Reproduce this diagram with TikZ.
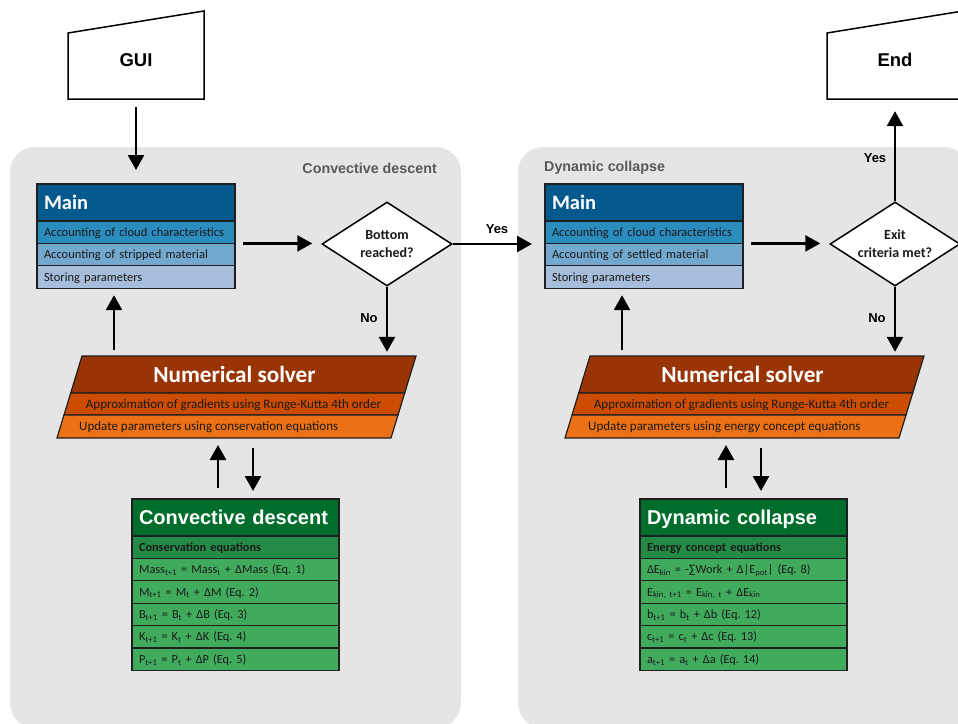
\documentclass[tikz,border=0pt]{standalone}
\usepackage{fontspec}
\setmainfont{Carlito}
\newfontfamily\arialfont{Liberation Sans}
\usetikzlibrary{positioning,shapes.geometric,arrows.meta}
\frenchspacing
\definecolor{panelgrey}{HTML}{E5E5E5}
\definecolor{titlegrey}{HTML}{595959}
\definecolor{edge}{HTML}{1F1F1F}
\definecolor{ink}{HTML}{1A1A1A}
\definecolor{pubuA}{HTML}{045A8D}
\definecolor{pubuB}{HTML}{2B8CBE}
\definecolor{pubuC}{HTML}{74A9CF}
\definecolor{pubuD}{HTML}{A6BDDB}
\definecolor{brownA}{HTML}{993404}
\definecolor{brownB}{HTML}{CC4C02}
\definecolor{brownC}{HTML}{EC7014}
\definecolor{greenA}{HTML}{006D2C}
\definecolor{greenB}{HTML}{238B45}
\definecolor{greenC}{HTML}{41AB5D}

\begin{document}
\begin{tikzpicture}[x=1pt, y=-1pt,
      panel/.style={fill=panelgrey, rounded corners=25pt},
      paneltitle/.style={font=\arialfont\bfseries\fontsize{14.3}{16}\selectfont,
                         text=titlegrey, inner sep=0pt},
      iobox/.style={minimum width=136pt, minimum height=78pt, inner sep=0pt,
                    text height=13pt, text depth=0pt,
                    font=\arialfont\bfseries\fontsize{18.5}{20}\selectfont},
      ioline/.style={draw=black, line width=1.5pt, fill=white},
      head/.style={draw=edge, line width=1.2pt, outer sep=0pt, inner xsep=7pt,
                   inner ysep=0pt, minimum height=37pt, align=left, text=white,
                   text depth=0pt},
      mainhead/.style={head, fill=pubuA, text width=184pt, text height=13.2pt,
                       font=\bfseries\fontsize{20.5}{22}\selectfont},
      eqhead/.style={head, fill=greenA, text width=193pt, text height=14.3pt,
                     font=\arialfont\bfseries\fontsize{20}{22}\selectfont},
      row/.style={draw=edge, line width=1.2pt, outer sep=0pt, inner xsep=7pt,
                  inner ysep=0pt, minimum height=22.4pt, align=left, text=ink,
                  text height=8pt, text depth=0pt,
                  font=\fontsize{12.5}{14}\selectfont},
      mainrow/.style={row, text width=184pt},
      eqrow/.style={row, fill=greenC, text width=193pt,
                    font=\fontsize{12.3}{14}\selectfont},
      decision/.style={diamond, draw=black, line width=1.5pt, fill=white,
                       minimum width=130pt, minimum height=84pt, aspect=1.55,
                       inner sep=0pt, align=center, text=ink,
                       font=\bfseries\fontsize{14}{18}\selectfont},
      srow/.style={draw=edge, line width=1.2pt},
      solvhead/.style={minimum height=37pt, inner sep=0pt, text=white,
                       text height=15pt, text depth=0pt,
                       font=\bfseries\fontsize{23.2}{25}\selectfont},
      solvtext/.style={minimum height=22.4pt, inner sep=0pt, text=ink,
                       text height=8.2pt, text depth=0pt,
                       font=\fontsize{13}{15}\selectfont},
      flag/.style={font=\arialfont\bfseries\fontsize{13}{15}\selectfont, inner sep=0pt},
      arr/.style={-{Triangle[length=15pt,width=16pt]}, line width=2.6pt,
                  shorten <=8pt, shorten >=9pt}
    ]
    \clip (0,0) rectangle (958,723);

    % Grey panels
    \fill[panel] (10,147) rectangle (461,728);
    \fill[panel] (518,147) rectangle (969,728);
    \node[paneltitle, anchor=east] (titleL) at (437,168) {Convective descent};
    \node[paneltitle, anchor=west] (titleR) at (544,168) {Dynamic collapse};

    % Start and end
    \draw[ioline] (68,99) -- (204,99) -- (204,11) -- (68,33) -- cycle;
    \node[iobox] (gui) at (136,60) {GUI};
    \draw[ioline] (827,99) -- (963,99) -- (963,11) -- (827,33) -- cycle;
    \node[iobox] (end) at (895,60) {End};

    % Convective descent
    \node[mainhead] (mainL) at (136,202.5) {Main};
    \node[mainrow, fill=pubuB, below=0pt of mainL]  (mainL1) {Accounting of cloud characteristics};
    \node[mainrow, fill=pubuC, below=0pt of mainL1] (mainL2) {Accounting of stripped material};
    \node[mainrow, fill=pubuD, below=0pt of mainL2] (mainL3) {Storing parameters};

    \node[decision] (diaL) at (387,244) {Bottom\\reached?};

    \filldraw[srow, fill=brownA] (82,356) -- (416,356) -- (404.7,393) -- (70.7,393) -- cycle;
    \filldraw[srow, fill=brownB] (70.7,393) -- (404.7,393) -- (398,415) -- (64,415) -- cycle;
    \filldraw[srow, fill=brownC] (64,415) -- (398,415) -- (391,438) -- (57,438) -- cycle;
    \node[solvhead] (solvL) at (234.5,374.5) {Numerical solver};
    \node[solvtext] (solvL1) at (233.5,404) {Approximation of gradients using Runge-Kutta 4th order};
    \node[solvtext, anchor=west] (solvL2) at (79,426.6) {Update parameters using conservation equations};

    \node[eqhead] (eqL) at (235.5,517.5) {Convective descent};
    \node[eqrow, fill=greenB, below=0pt of eqL, font=\bfseries\fontsize{12.3}{14}\selectfont] (eqL0) {Conservation equations};
    \node[eqrow, below=0pt of eqL0] (eqL1) {Mass\textsubscript{t+1} = Mass\textsubscript{t} + ΔMass (Eq. 1)};
    \node[eqrow, below=0pt of eqL1] (eqL2) {M\textsubscript{t+1} = M\textsubscript{t} + ΔM (Eq. 2)};
    \node[eqrow, below=0pt of eqL2] (eqL3) {B\textsubscript{t+1} = B\textsubscript{t} + ΔB (Eq. 3)};
    \node[eqrow, below=0pt of eqL3] (eqL4) {K\textsubscript{t+1} = K\textsubscript{t} + ΔK (Eq. 4)};
    \node[eqrow, below=0pt of eqL4] (eqL5) {P\textsubscript{t+1} = P\textsubscript{t} + ΔP (Eq. 5)};

    % Dynamic collapse
    \begin{scope}[xshift=508pt]
      \node[mainhead] (mainR) at (136,202.5) {Main};
      \node[mainrow, fill=pubuB, below=0pt of mainR]  (mainR1) {Accounting of cloud characteristics};
      \node[mainrow, fill=pubuC, below=0pt of mainR1] (mainR2) {Accounting of settled material};
      \node[mainrow, fill=pubuD, below=0pt of mainR2] (mainR3) {Storing parameters};

      \node[decision] (diaR) at (387,244) {Exit\\criteria met?};

      \filldraw[srow, fill=brownA] (82,356) -- (416,356) -- (404.7,393) -- (70.7,393) -- cycle;
      \filldraw[srow, fill=brownB] (70.7,393) -- (404.7,393) -- (398,415) -- (64,415) -- cycle;
      \filldraw[srow, fill=brownC] (64,415) -- (398,415) -- (391,438) -- (57,438) -- cycle;
      \node[solvhead] (solvR) at (234.5,374.5) {Numerical solver};
      \node[solvtext] (solvR1) at (233.5,404) {Approximation of gradients using Runge-Kutta 4th order};
      \node[solvtext, anchor=west] (solvR2) at (80,426.6) {Update parameters using energy concept equations};

      \node[eqhead] (eqR) at (235.5,517.5) {Dynamic collapse};
      \node[eqrow, fill=greenB, below=0pt of eqR, font=\bfseries\fontsize{12.3}{14}\selectfont] (eqR0) {Energy concept equations};
      \node[eqrow, below=0pt of eqR0] (eqR1) {ΔE\textsubscript{kin} = -∑Work + Δ|E\textsubscript{pot}| (Eq. 8)};
      \node[eqrow, below=0pt of eqR1] (eqR2) {E\textsubscript{kin, t+1} = E\textsubscript{kin, t} + ΔE\textsubscript{kin}};
      \node[eqrow, below=0pt of eqR2] (eqR3) {b\textsubscript{t+1} = b\textsubscript{t} + Δb (Eq. 12)};
      \node[eqrow, below=0pt of eqR3] (eqR4) {c\textsubscript{t+1} = c\textsubscript{t} + Δc (Eq. 13)};
      \node[eqrow, below=0pt of eqR4] (eqR5) {a\textsubscript{t+1} = a\textsubscript{t} + Δa (Eq. 14)};
    \end{scope}

    % Arrows, left
    \draw[arr, shorten >=14pt] (gui.south) -- (mainL.north);
    \draw[arr] (mainL1.south east) -- (mainL1.south east -| diaL.west);
    \draw[arr, shorten <=0pt, shorten >=4pt] (diaL.south) -- (diaL.south |- solvL.north);
    \draw[arr, shorten <=6pt, shorten >=7pt] ([xshift=-22pt]mainL3.south |- solvL.north) -- ([xshift=-22pt]mainL3.south);
    \draw[arr, shorten <=11pt, shorten >=7pt] ([xshift=-17.5pt]eqL.north) -- ([xshift=-17.5pt]eqL.north |- solvL2.south);
    \draw[arr, shorten <=10pt, shorten >=8pt] ([xshift=17.5pt]eqL.north |- solvL2.south) -- ([xshift=17.5pt]eqL.north);

    % Arrows, right
    \draw[arr, shorten <=0pt, shorten >=13pt] (diaL.east) -- (diaL.east -| mainR1.west);
    \draw[arr] (mainR1.south east) -- (mainR1.south east -| diaR.west);
    \draw[arr, shorten <=0pt, shorten >=12pt] (diaR.north) -- (diaR.north |- end.south);
    \draw[arr, shorten <=0pt, shorten >=4pt] (diaR.south) -- (diaR.south |- solvR.north);
    \draw[arr, shorten <=6pt, shorten >=7pt] ([xshift=-22pt]mainR3.south |- solvR.north) -- ([xshift=-22pt]mainR3.south);
    \draw[arr, shorten <=11pt, shorten >=7pt] ([xshift=-17.5pt]eqR.north) -- ([xshift=-17.5pt]eqR.north |- solvR2.south);
    \draw[arr, shorten <=10pt, shorten >=8pt] ([xshift=17.5pt]eqR.north |- solvR2.south) -- ([xshift=17.5pt]eqR.north);

    % Branch labels
    \node[flag] (noL)  at (369,318) {No};
    \node[flag] (yesL) at (497,229) {Yes};
    \node[flag] (noR)  at (877,318) {No};
    \node[flag] (yesR) at (875,158) {Yes};

  \end{tikzpicture}
\end{document}
